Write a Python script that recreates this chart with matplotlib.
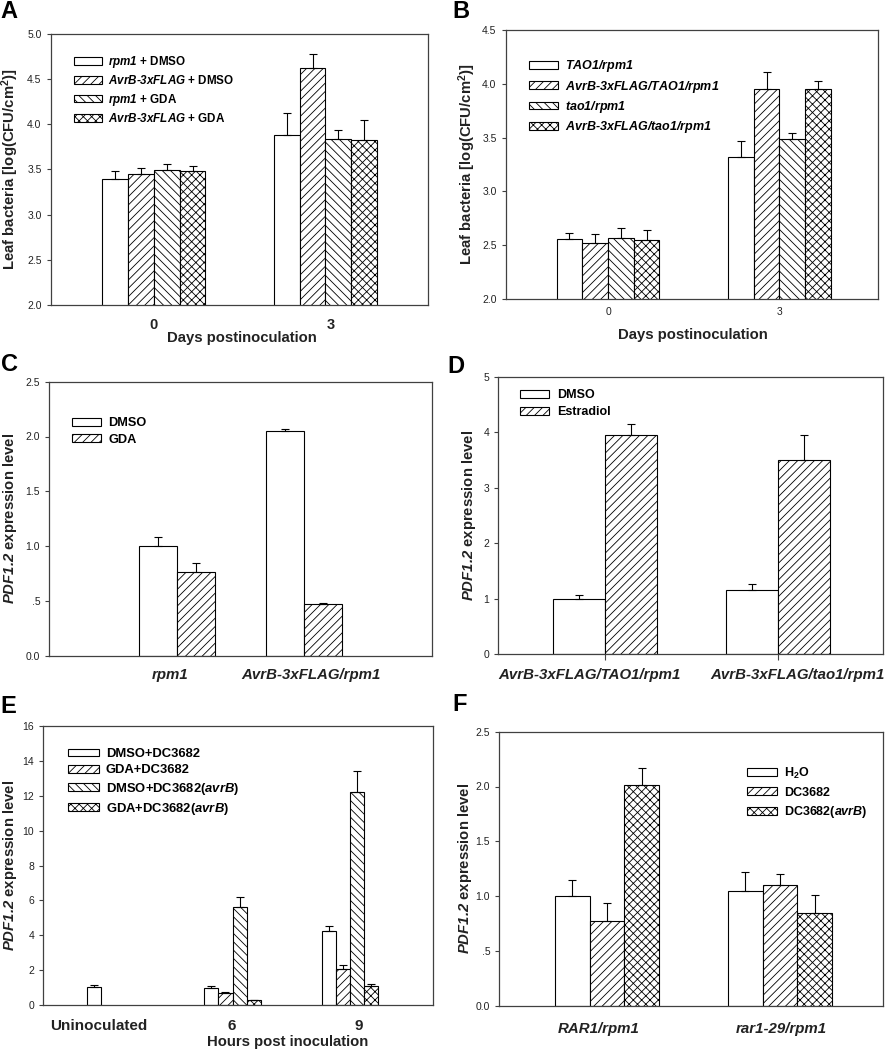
import numpy as np
import matplotlib
matplotlib.use("Agg")
import matplotlib.pyplot as plt

plt.rcParams.update({
    "font.family": ["Liberation Sans", "DejaVu Sans"],
    "mathtext.fontset": "custom",
    "mathtext.rm": "Liberation Sans",
    "mathtext.it": "Liberation Sans:italic",
    "mathtext.bf": "Liberation Sans:bold",
    "mathtext.bfit": "Liberation Sans:italic:bold",
    "hatch.linewidth": 0.6,
})

# ---------------- data ----------------
# Panel A
a_groups = ["0", "3"]
a_labels = [r"$\mathbfit{rpm1}$ + DMSO", r"$\mathbfit{AvrB}$-$\mathbfit{3xFLAG}$ + DMSO",
            r"$\mathbfit{rpm1}$ + GDA", r"$\mathbfit{AvrB}$-$\mathbfit{3xFLAG}$ + GDA"]
a_rpm1_dmso = [3.39, 3.88]
a_avrb_dmso = [3.45, 4.62]
a_rpm1_gda = [3.49, 3.84]
a_avrb_gda = [3.48, 3.83]
a_se_rpm1_dmso = [0.09, 0.24]
a_se_avrb_dmso = [0.06, 0.16]
a_se_rpm1_gda = [0.07, 0.09]
a_se_avrb_gda = [0.06, 0.22]

# Panel B
b_groups = ["0", "3"]
b_labels = [r"$\mathbfit{TAO1/rpm1}$", r"$\mathbfit{AvrB}$-$\mathbfit{3xFLAG/TAO1/rpm1}$",
            r"$\mathbfit{tao1/rpm1}$", r"$\mathbfit{AvrB}$-$\mathbfit{3xFLAG/tao1/rpm1}$"]
b_tao1 = [2.56, 3.32]
b_avrb_tao1 = [2.52, 3.95]
b_tao1_mut = [2.57, 3.49]
b_avrb_tao1_mut = [2.55, 3.95]
b_se_tao1 = [0.05, 0.15]
b_se_avrb_tao1 = [0.08, 0.16]
b_se_tao1_mut = [0.09, 0.05]
b_se_avrb_tao1_mut = [0.09, 0.08]

# Panel C
c_groups = ["rpm1", "AvrB-3xFLAG/rpm1"]
c_labels = ["DMSO", "GDA"]
c_dmso = [1.00, 2.05]
c_gda = [0.76, 0.47]
c_se_dmso = [0.08, 0.02]
c_se_gda = [0.09, 0.01]

# Panel D
d_groups = ["AvrB-3xFLAG/TAO1/rpm1", "AvrB-3xFLAG/tao1/rpm1"]
d_labels = ["DMSO", "Estradiol"]
d_dmso = [1.00, 1.15]
d_estradiol = [3.95, 3.50]
d_se_dmso = [0.07, 0.12]
d_se_estradiol = [0.20, 0.45]

# Panel E
e_groups = ["Uninoculated", "6", "9"]
e_labels = ["DMSO+DC3682", "GDA+DC3682", r"DMSO+DC3682($\mathbfit{avrB}$)", r"GDA+DC3682($\mathbfit{avrB}$)"]
e_dmso_dc = [1.01, 0.99, 4.22]
e_gda_dc = [np.nan, 0.70, 2.04]
e_dmso_avrb = [np.nan, 5.62, 12.20]
e_gda_avrb = [np.nan, 0.26, 1.09]
e_se_dmso_dc = [0.13, 0.10, 0.33]
e_se_gda_dc = [np.nan, 0.06, 0.25]
e_se_dmso_avrb = [np.nan, 0.55, 1.20]
e_se_gda_avrb = [np.nan, 0.04, 0.11]

# Panel F
f_groups = ["RAR1/rpm1", "rar1-29/rpm1"]
f_labels = [r"H$_\mathbf{2}$O", "DC3682", r"DC3682($\mathbfit{avrB}$)"]
f_h2o = [1.00, 1.05]
f_dc = [0.77, 1.10]
f_avrb = [2.01, 0.85]
f_se_h2o = [0.15, 0.17]
f_se_dc = [0.17, 0.10]
f_se_avrb = [0.16, 0.16]

# ---------------- helpers ----------------
W, H = 885, 1050
fig = plt.figure(figsize=(W / 100, H / 100), dpi=100)
SPINE = "#404040"
TXT = "#222222"


def add_ax(l, t, r, b):
    return fig.add_axes([l / W, 1 - b / H, (r - l) / W, (b - t) / H])


def bars(ax, series, errors, hatches, width):
    n = len(series)
    pos = np.arange(len(series[0]), dtype=float)
    handles = []
    for i, (vals, errs, h) in enumerate(zip(series, errors, hatches)):
        vals = np.asarray(vals, float)
        errs = np.asarray(errs, float)
        x = pos + (i - (n - 1) / 2) * width
        m = np.isfinite(vals)
        bc = ax.bar(x[m], vals[m], width, facecolor="white", edgecolor="black",
                    hatch=h, linewidth=0.8, zorder=2)
        ax.errorbar(x[m], vals[m], yerr=[np.zeros(m.sum()), errs[m]], fmt="none",
                    ecolor="black", elinewidth=0.8, capsize=3, capthick=0.8, zorder=3)
        handles.append(bc)
    return handles


def style(ax, xlim, ylim, yticks, yticklabels):
    ax.set_xlim(*xlim)
    ax.set_ylim(*ylim)
    ax.set_yticks(yticks)
    ax.set_yticklabels(yticklabels)
    for s in ax.spines.values():
        s.set_color(SPINE)
        s.set_linewidth(0.9)
    ax.tick_params(axis="y", direction="out", length=3, width=0.8, pad=3.6,
                   labelsize=7.5, color=SPINE, labelcolor=TXT)


def xticks(ax, positions, labels, pad, size, weight="bold", style="normal", length=0):
    ax.set_xticks(positions)
    ax.set_xticklabels(labels, fontsize=size, fontweight=weight, fontstyle=style, color=TXT)
    ax.tick_params(axis="x", direction="out", length=length, width=0.8, pad=pad, color=SPINE)


def legend(ax, handles, labels, left_px, center_px, pt, pitch_px, w_px, h_px, gap_px):
    s = pt * 100 / 72
    top_px = center_px - 0.4 * s
    ax.legend(handles, labels, loc="upper left",
              bbox_to_anchor=(left_px / W, 1 - top_px / H), bbox_transform=fig.transFigure,
              frameon=False, borderpad=0, borderaxespad=0,
              prop={"size": pt, "weight": "bold"},
              handlelength=w_px / s, handleheight=h_px / s, handletextpad=gap_px / s,
              labelspacing=(pitch_px - 0.95 * s) / s)


def ylabel(text, x_px, y_px):
    fig.text(x_px / W, 1 - y_px / H, text, rotation=90, ha="center", va="center",
             fontsize=10.7, fontweight="bold", color=TXT)


def xlabel(text, x_px, y_px):
    fig.text(x_px / W, 1 - y_px / H, text, ha="center", va="center",
             fontsize=10.7, fontweight="bold", color=TXT)


def letter(text, x_px, y_px):
    fig.text(x_px / W, 1 - y_px / H, text, ha="left", va="top",
             fontsize=17, fontweight="bold", color="black")


hat4 = [None, "////", "\\\\\\\\", "xxxx"]

# ---------------- Panel A ----------------
axA = add_ax(50.7, 33.7, 428, 305)
hA = bars(axA, [a_rpm1_dmso, a_avrb_dmso, a_rpm1_gda, a_avrb_gda],
          [a_se_rpm1_dmso, a_se_avrb_dmso, a_se_rpm1_gda, a_se_avrb_gda], hat4, 0.15)
style(axA, (-0.602, 1.598), (2.0, 5.0), np.arange(2.0, 5.01, 0.5),
      ["%.1f" % v for v in np.arange(2.0, 5.01, 0.5)])
xticks(axA, [0, 1.03], a_groups, pad=9.4, size=10.5)
legend(axA, hA, a_labels, 74.3, 58.8, 8.4, 15.3, 27.3, 7.5, 6.0)
ylabel(r"Leaf bacteria [log(CFU/cm$^\mathbf{2}$)]", 10.5, 169.4)
xlabel("Days postinoculation", 242, 338)
letter("A", 0.5, 0.5)

# ---------------- Panel B ----------------
axB = add_ax(505.7, 30, 877.7, 299)
hB = bars(axB, [b_tao1, b_avrb_tao1, b_tao1_mut, b_avrb_tao1_mut],
          [b_se_tao1, b_se_avrb_tao1, b_se_tao1_mut, b_se_avrb_tao1_mut], hat4, 0.15)
style(axB, (-0.597, 1.573), (2.0, 4.5), np.arange(2.0, 4.51, 0.5),
      ["%.1f" % v for v in np.arange(2.0, 4.51, 0.5)])
xticks(axB, [0, 1], b_groups, pad=6.0, size=7.5, weight="normal")
legend(axB, hB, b_labels, 529.3, 63.3, 9.0, 16.2, 29.0, 7.0, 6.7)
ylabel(r"Leaf bacteria [log(CFU/cm$^\mathbf{2}$)]", 467, 164.5)
xlabel("Days postinoculation", 693, 335)
letter("B", 452, 0.5)

# ---------------- Panel C ----------------
axC = add_ax(49.3, 381.7, 431.7, 655.7)
hC = bars(axC, [c_dmso, c_gda], [c_se_dmso, c_se_gda], [None, "////"], 0.3)
style(axC, (-1.0, 2.0), (0, 2.5), np.arange(0, 2.51, 0.5),
      ["0.0", ".5", "1.0", "1.5", "2.0", "2.5"])
xticks(axC, [-0.05, 1.05], c_groups, pad=9.0, size=10.8, style="italic")
legend(axC, hC, c_labels, 71.7, 422.3, 9.2, 16.7, 29.3, 7.0, 7.3)
ylabel(r"$\mathbfit{PDF1.2}$ expression level", 10, 518.7)
letter("C", 1, 353)

# ---------------- Panel D ----------------
axD = add_ax(498.3, 376.7, 883.3, 654.3)
hD = bars(axD, [d_dmso, d_estradiol], [d_se_dmso, d_se_estradiol], [None, "////"], 0.3)
style(axD, (-0.616, 1.606), (0, 5), np.arange(0, 6, 1), [str(v) for v in range(6)])
axD.set_xticks([0, 1])
axD.set_xticklabels([])
axD.tick_params(axis="x", which="major", direction="out", length=4, width=0.8, color=SPINE)
axD.set_xticks([-0.087, 1.11], minor=True)
axD.set_xticklabels(d_groups, minor=True, fontsize=10.8, fontweight="bold",
                    fontstyle="italic", color=TXT)
axD.tick_params(axis="x", which="minor", length=0, pad=10.2)
legend(axD, hD, d_labels, 520, 394.3, 9.0, 16.7, 29.3, 7.0, 7.5)
ylabel(r"$\mathbfit{PDF1.2}$ expression level", 469, 515.5)
letter("D", 447, 355)

# ---------------- Panel E ----------------
axE = add_ax(43.3, 726, 433.3, 1005)
hE = bars(axE, [e_dmso_dc, e_gda_dc, e_dmso_avrb, e_gda_avrb],
          [e_se_dmso_dc, e_se_gda_dc, e_se_dmso_avrb, e_se_gda_avrb], hat4, 0.12)
style(axE, (-0.61, 2.708), (0, 16), np.arange(0, 17, 2), [str(v) for v in range(0, 17, 2)])
xticks(axE, [-0.142, 0.995, 2.075], e_groups, pad=10.3, size=11)
legend(axE, hE, e_labels, 68.3, 753.3, 9.4, 16.7, 30.7, 7.0, 7.0)
ylabel(r"$\mathbfit{PDF1.2}$ expression level", 10, 865.5)
xlabel("Hours post inoculation", 288, 1041.7)
letter("E", 0.5, 695)

# ---------------- Panel F ----------------
axF = add_ax(499.3, 731.7, 883.3, 1005.7)
hF = bars(axF, [f_h2o, f_dc, f_avrb], [f_se_h2o, f_se_dc, f_se_avrb], [None, "////", "xxxx"], 0.2)
style(axF, (-0.623, 1.597), (0, 2.5), np.arange(0, 2.51, 0.5),
      ["0.0", ".5", "1.0", "1.5", "2.0", "2.5"])
xticks(axF, [-0.046, 1.01], f_groups, pad=11.5, size=10.8, style="italic")
legend(axF, hF, f_labels, 746.7, 770.7, 9.0, 17.7, 30.0, 7.0, 7.6)
ylabel(r"$\mathbfit{PDF1.2}$ expression level", 465.5, 868.7)
letter("F", 452, 693)

fig.savefig("out.png", dpi=100)
